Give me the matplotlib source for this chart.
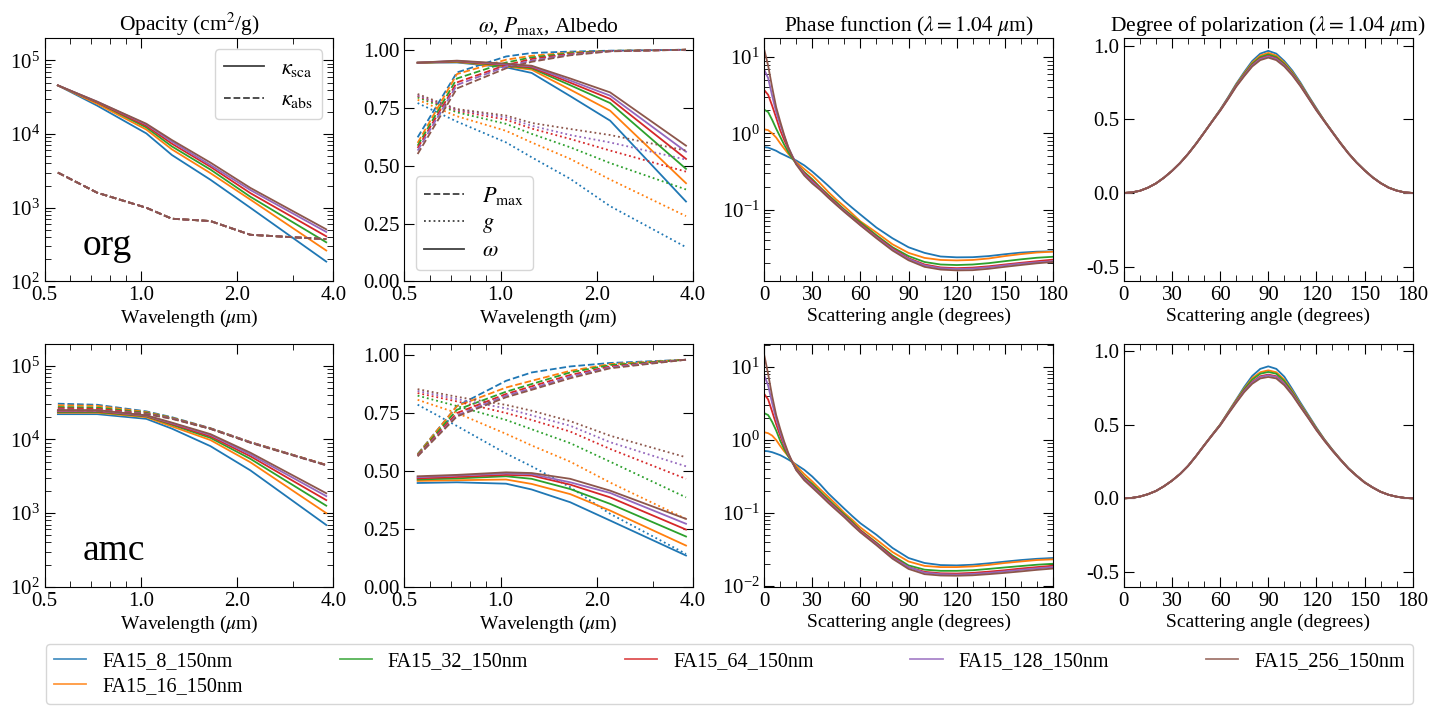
import matplotlib
matplotlib.use("Agg")
import matplotlib.pyplot as plt
from matplotlib.lines import Line2D
from matplotlib.ticker import FixedLocator, FormatStrFormatter, MultipleLocator, NullFormatter

plt.rcParams['font.family'] = 'serif'
plt.rcParams['font.serif'] = ['Liberation Serif', 'DejaVu Serif']
plt.rcParams['mathtext.fontset'] = 'stix'
plt.rcParams['font.size'] = 14

# ---- data ----
names = ['FA15_8_150nm', 'FA15_16_150nm', 'FA15_32_150nm',
         'FA15_64_150nm', 'FA15_128_150nm', 'FA15_256_150nm']
colors = ['tab:blue', 'tab:orange', 'tab:green', 'tab:red', 'tab:purple', 'tab:brown']

wavelengths = [0.55, 0.73, 1.04, 1.25, 1.65, 2.2, 3.8]

# opacities (cm^2/g)
ksca_org = [
    [4.57e4, 2.43e4, 1.02e4, 5.2e3, 2.4e3, 1.0e3, 1.86e2],
    [4.57e4, 2.57e4, 1.15e4, 6.2e3, 2.95e3, 1.29e3, 2.63e2],
    [4.57e4, 2.69e4, 1.23e4, 6.8e3, 3.3e3, 1.41e3, 3.4e2],
    [4.57e4, 2.70e4, 1.29e4, 7.4e3, 3.6e3, 1.58e3, 4.1e2],
    [4.57e4, 2.75e4, 1.35e4, 7.9e3, 3.8e3, 1.74e3, 4.7e2],
    [4.57e4, 2.75e4, 1.38e4, 8.3e3, 4.1e3, 1.86e3, 5.1e2],
]
kabs_org = [3.0e3, 1.6e3, 1.0e3, 7.1e2, 6.6e2, 4.3e2, 3.75e2]

ksca_amc = [
    [2.20e4, 2.20e4, 1.90e4, 1.40e4, 8.1e3, 3.8e3, 6.9e2],
    [2.30e4, 2.30e4, 2.00e4, 1.50e4, 9.8e3, 4.9e3, 1.0e3],
    [2.35e4, 2.35e4, 2.05e4, 1.58e4, 1.05e4, 5.45e3, 1.26e3],
    [2.40e4, 2.40e4, 2.08e4, 1.62e4, 1.10e4, 5.9e3, 1.5e3],
    [2.45e4, 2.45e4, 2.10e4, 1.66e4, 1.15e4, 6.25e3, 1.7e3],
    [2.50e4, 2.50e4, 2.12e4, 1.69e4, 1.18e4, 6.6e3, 1.86e3],
]
kabs_amc = [
    [3.05e4, 2.95e4, 2.40e4, 2.00e4, 1.42e4, 9.2e3, 4.5e3],
    [2.90e4, 2.85e4, 2.35e4, 1.97e4, 1.41e4, 9.2e3, 4.5e3],
    [2.75e4, 2.70e4, 2.30e4, 1.95e4, 1.40e4, 9.1e3, 4.5e3],
    [2.65e4, 2.60e4, 2.25e4, 1.93e4, 1.40e4, 9.1e3, 4.5e3],
    [2.55e4, 2.50e4, 2.22e4, 1.92e4, 1.39e4, 9.1e3, 4.45e3],
    [2.50e4, 2.45e4, 2.20e4, 1.90e4, 1.39e4, 9.0e3, 4.45e3],
]

# single scattering albedo, max polarization, asymmetry parameter
omega_org = [
    [0.944, 0.945, 0.924, 0.900, 0.800, 0.694, 0.345],
    [0.944, 0.947, 0.928, 0.914, 0.828, 0.737, 0.424],
    [0.944, 0.949, 0.931, 0.920, 0.847, 0.770, 0.486],
    [0.944, 0.950, 0.934, 0.924, 0.858, 0.788, 0.529],
    [0.944, 0.952, 0.937, 0.928, 0.867, 0.802, 0.560],
    [0.944, 0.953, 0.940, 0.931, 0.876, 0.816, 0.586],
]
pmax_org = [
    [0.622, 0.902, 0.971, 0.986, 0.992, 0.996, 1.0],
    [0.598, 0.895, 0.957, 0.974, 0.988, 0.995, 1.0],
    [0.586, 0.876, 0.945, 0.967, 0.985, 0.995, 1.0],
    [0.576, 0.859, 0.934, 0.960, 0.982, 0.994, 1.0],
    [0.565, 0.848, 0.928, 0.953, 0.979, 0.994, 1.0],
    [0.550, 0.833, 0.920, 0.948, 0.976, 0.993, 1.0],
]
g_org = [
    [0.770, 0.690, 0.600, 0.536, 0.443, 0.325, 0.148],
    [0.784, 0.713, 0.650, 0.600, 0.529, 0.440, 0.282],
    [0.794, 0.730, 0.680, 0.637, 0.579, 0.511, 0.397],
    [0.800, 0.737, 0.698, 0.660, 0.615, 0.565, 0.474],
    [0.803, 0.741, 0.708, 0.672, 0.632, 0.600, 0.526],
    [0.809, 0.744, 0.716, 0.684, 0.658, 0.632, 0.565],
]

omega_amc = [
    [0.448, 0.451, 0.445, 0.420, 0.365, 0.286, 0.135],
    [0.457, 0.460, 0.463, 0.444, 0.400, 0.329, 0.178],
    [0.463, 0.468, 0.477, 0.466, 0.422, 0.358, 0.217],
    [0.468, 0.474, 0.483, 0.480, 0.441, 0.386, 0.247],
    [0.473, 0.480, 0.489, 0.486, 0.451, 0.405, 0.272],
    [0.477, 0.483, 0.494, 0.491, 0.466, 0.415, 0.293],
]
pmax_amc = [
    [0.573, 0.780, 0.889, 0.925, 0.951, 0.966, 0.980],
    [0.571, 0.780, 0.860, 0.889, 0.932, 0.961, 0.980],
    [0.569, 0.764, 0.842, 0.875, 0.925, 0.957, 0.980],
    [0.567, 0.750, 0.832, 0.865, 0.914, 0.951, 0.980],
    [0.565, 0.740, 0.825, 0.856, 0.907, 0.947, 0.980],
    [0.563, 0.735, 0.818, 0.850, 0.900, 0.943, 0.980],
]
g_amc = [
    [0.786, 0.694, 0.575, 0.520, 0.430, 0.315, 0.142],
    [0.807, 0.750, 0.660, 0.610, 0.540, 0.450, 0.293],
    [0.825, 0.780, 0.720, 0.680, 0.620, 0.540, 0.386],
    [0.836, 0.800, 0.750, 0.720, 0.670, 0.595, 0.466],
    [0.845, 0.810, 0.770, 0.740, 0.695, 0.624, 0.520],
    [0.853, 0.820, 0.785, 0.760, 0.715, 0.652, 0.559],
]

# phase function at 1.04 um
phase_angles = [0, 2.5, 5, 7.5, 10, 12.5, 15, 17.5, 20, 25, 30, 35, 40, 45, 50, 55,
                60, 70, 80, 90, 100, 110, 120, 130, 140, 150, 160, 170, 180]
phase_org = [
    [0.66, 0.65, 0.62, 0.59, 0.55, 0.52, 0.49, 0.465, 0.44, 0.38, 0.315, 0.255, 0.205,
     0.163, 0.129, 0.105, 0.086, 0.058, 0.042, 0.032, 0.027, 0.0242, 0.0236, 0.0237,
     0.0245, 0.0259, 0.0272, 0.028, 0.0283],
    [1.13, 1.10, 1.0, 0.88, 0.74, 0.63, 0.54, 0.47, 0.42, 0.34, 0.28, 0.22, 0.17,
     0.135, 0.11, 0.088, 0.07, 0.05, 0.035, 0.027, 0.0232, 0.0218, 0.0215, 0.0218,
     0.0228, 0.0245, 0.026, 0.0273, 0.028],
    [2.05, 1.9, 1.5, 1.15, 0.9, 0.71, 0.57, 0.47, 0.40, 0.31, 0.25, 0.195, 0.155,
     0.125, 0.10, 0.082, 0.068, 0.046, 0.032, 0.0245, 0.0205, 0.019, 0.0187, 0.019,
     0.0198, 0.021, 0.0222, 0.0233, 0.024],
    [3.7, 3.2, 2.3, 1.6, 1.1, 0.82, 0.63, 0.50, 0.40, 0.30, 0.24, 0.19, 0.15,
     0.12, 0.097, 0.079, 0.065, 0.044, 0.031, 0.023, 0.019, 0.0174, 0.017, 0.0173,
     0.018, 0.019, 0.020, 0.021, 0.022],
    [6.85, 5.3, 3.1, 1.9, 1.3, 0.92, 0.66, 0.51, 0.40, 0.29, 0.23, 0.185, 0.145,
     0.117, 0.095, 0.077, 0.063, 0.043, 0.030, 0.0225, 0.0185, 0.017, 0.0166, 0.0168,
     0.0175, 0.0185, 0.0195, 0.0203, 0.021],
    [12.7, 7.7, 4.0, 2.2, 1.43, 0.95, 0.66, 0.50, 0.39, 0.28, 0.22, 0.18, 0.143,
     0.115, 0.093, 0.076, 0.062, 0.042, 0.029, 0.0216, 0.0177, 0.0163, 0.0159, 0.016,
     0.0167, 0.0177, 0.0187, 0.0197, 0.0205],
]
phase_amc = [
    [0.71, 0.70, 0.68, 0.65, 0.62, 0.58, 0.54, 0.50, 0.46, 0.39, 0.315, 0.245, 0.185,
     0.145, 0.114, 0.09, 0.072, 0.05, 0.033, 0.024, 0.0205, 0.0192, 0.019, 0.0194,
     0.0203, 0.0214, 0.0225, 0.0234, 0.024],
    [1.28, 1.24, 1.15, 1.0, 0.83, 0.70, 0.60, 0.51, 0.44, 0.34, 0.27, 0.21, 0.166,
     0.13, 0.10, 0.08, 0.063, 0.043, 0.029, 0.0215, 0.0187, 0.018, 0.018, 0.0184,
     0.0193, 0.0205, 0.0215, 0.0225, 0.023],
    [2.34, 2.2, 1.77, 1.35, 0.98, 0.75, 0.60, 0.49, 0.41, 0.31, 0.25, 0.195, 0.153,
     0.12, 0.095, 0.075, 0.058, 0.039, 0.026, 0.019, 0.0166, 0.016, 0.016, 0.0163,
     0.017, 0.0178, 0.0186, 0.0194, 0.020],
    [4.3, 3.6, 2.45, 1.65, 1.15, 0.83, 0.63, 0.50, 0.40, 0.30, 0.237, 0.185, 0.146,
     0.115, 0.091, 0.072, 0.057, 0.038, 0.025, 0.018, 0.0155, 0.0148, 0.0147, 0.015,
     0.0156, 0.0163, 0.0172, 0.018, 0.0188],
    [7.8, 5.6, 3.2, 1.95, 1.28, 0.88, 0.65, 0.50, 0.39, 0.29, 0.23, 0.18, 0.141,
     0.112, 0.089, 0.07, 0.055, 0.037, 0.024, 0.018, 0.0151, 0.0144, 0.0142, 0.0145,
     0.015, 0.0157, 0.0165, 0.0173, 0.018],
    [14.9, 8.0, 4.0, 2.2, 1.42, 0.95, 0.67, 0.50, 0.385, 0.28, 0.222, 0.175, 0.137,
     0.109, 0.087, 0.068, 0.054, 0.036, 0.0235, 0.017, 0.0144, 0.0138, 0.0137, 0.0139,
     0.0144, 0.015, 0.0157, 0.0165, 0.0172],
]

# degree of polarization at 1.04 um
pol_angles = [0, 5, 10, 15, 20, 25, 30, 35, 40, 45, 50, 55, 60, 65, 70, 75, 80, 85, 90,
              95, 100, 105, 110, 115, 120, 125, 130, 135, 140, 145, 150, 155, 160, 165,
              170, 175, 180]
pol_org = [
    [0, .004, .015, .036, .065, .104, .150, .203, .265, .335, .41, .487,
     .565, .65, .74, .82, .895, .945, .964, .945, .895, .83, .75, .66, .575,
     .49, .415, .34, .27, .208, .155, .107, .068, .037, .017, .004, 0],
    [0, .004, .015, .036, .065, .104, .150, .203, .265, .335, .41, .487,
     .563, .646, .735, .812, .884, .932, .95, .932, .884, .82, .742, .655, .57,
     .49, .414, .34, .27, .208, .155, .107, .068, .037, .017, .004, 0],
    [0, .004, .015, .036, .065, .104, .150, .203, .265, .335, .41, .486,
     .562, .644, .731, .806, .876, .922, .94, .922, .876, .813, .737, .652, .567,
     .489, .413, .339, .269, .208, .155, .107, .068, .037, .017, .004, 0],
    [0, .004, .015, .036, .065, .104, .150, .203, .265, .334, .409, .485,
     .56, .641, .727, .80, .868, .913, .93, .913, .868, .806, .732, .648, .564,
     .487, .412, .338, .268, .207, .154, .106, .067, .036, .016, .004, 0],
    [0, .004, .015, .036, .065, .104, .150, .203, .265, .334, .409, .485,
     .559, .64, .725, .797, .864, .908, .925, .908, .864, .803, .729, .646, .562,
     .486, .411, .337, .268, .207, .154, .106, .067, .036, .016, .004, 0],
    [0, .004, .015, .036, .065, .104, .150, .203, .264, .333, .408, .484,
     .557, .637, .721, .792, .858, .901, .918, .901, .858, .798, .725, .643, .56,
     .485, .41, .336, .267, .206, .153, .106, .067, .036, .016, .004, 0],
]
pol_amc = [
    [0, .003, .012, .028, .05, .082, .12, .165, .22, .287, .36, .43,
     .50, .585, .67, .755, .83, .878, .895, .878, .825, .74, .65, .565, .48,
     .40, .33, .265, .205, .155, .11, .075, .045, .024, .011, .003, 0],
    [0, .003, .012, .028, .05, .082, .12, .165, .22, .287, .36, .43,
     .50, .583, .665, .745, .815, .855, .868, .855, .805, .728, .64, .558, .475,
     .398, .328, .264, .204, .155, .11, .075, .045, .024, .011, .003, 0],
    [0, .003, .012, .028, .05, .082, .12, .165, .22, .287, .36, .43,
     .499, .58, .66, .739, .805, .845, .857, .845, .795, .72, .635, .553, .472,
     .396, .327, .263, .203, .154, .109, .074, .045, .024, .011, .003, 0],
    [0, .003, .012, .028, .05, .082, .12, .165, .22, .287, .359, .429,
     .497, .577, .655, .73, .79, .828, .839, .828, .78, .71, .627, .548, .467,
     .393, .325, .262, .202, .153, .108, .074, .044, .024, .011, .003, 0],
    [0, .003, .012, .028, .05, .082, .12, .165, .22, .287, .358, .428,
     .496, .575, .652, .726, .785, .823, .834, .823, .776, .707, .625, .546, .465,
     .392, .324, .261, .202, .153, .108, .074, .044, .024, .011, .003, 0],
    [0, .003, .012, .028, .05, .082, .12, .165, .219, .286, .357, .427,
     .494, .572, .648, .72, .777, .813, .823, .813, .767, .70, .62, .543, .462,
     .39, .322, .26, .201, .152, .107, .073, .044, .024, .011, .003, 0],
]

lw = 1.3

fig, axes = plt.subplots(2, 4, figsize=(14.4, 7.2), dpi=100)
fig.subplots_adjust(left=0.031, right=0.981, top=0.947, bottom=0.185,
                    wspace=0.246, hspace=0.255)


def style_ticks(ax):
    ax.tick_params(which='both', direction='in', top=True, right=True)
    ax.tick_params(which='major', length=7, labelsize=15)
    ax.tick_params(which='minor', length=4)


def wave_axis(ax):
    ax.set_xscale('log')
    ax.set_xlim(0.5, 4.0)
    ax.xaxis.set_major_locator(FixedLocator([0.5, 1.0, 2.0, 4.0]))
    ax.xaxis.set_major_formatter(FormatStrFormatter('%.1f'))
    ax.xaxis.set_minor_formatter(NullFormatter())
    ax.set_xlabel(r'Wavelength ($\mu$m)', fontsize=14, labelpad=2)


def angle_axis(ax):
    ax.set_xlim(0, 180)
    ax.xaxis.set_major_locator(MultipleLocator(30))
    ax.xaxis.set_minor_locator(MultipleLocator(10))
    ax.set_xlabel('Scattering angle (degrees)', fontsize=14, labelpad=2)


rows = [
    ('org', ksca_org, [kabs_org] * 6, omega_org, pmax_org, g_org, phase_org, pol_org),
    ('amc', ksca_amc, kabs_amc, omega_amc, pmax_amc, g_amc, phase_amc, pol_amc),
]

for r, (comp, ksca, kabs, omega, pmax, gg, phase, pol) in enumerate(rows):
    ax0, ax1, ax2, ax3 = axes[r]

    # opacity
    for i, c in enumerate(colors):
        ax0.plot(wavelengths, ksca[i], color=c, lw=lw)
        ax0.plot(wavelengths, kabs[i], color=c, lw=lw, ls='--')
    ax0.set_yscale('log')
    ax0.set_ylim(1e2, 2e5)
    wave_axis(ax0)
    ax0.text(0.13, 0.11, comp, transform=ax0.transAxes, fontsize=27)

    # albedo, Pmax, g
    for i, c in enumerate(colors):
        ax1.plot(wavelengths, pmax[i], color=c, lw=lw, ls='--')
        ax1.plot(wavelengths, gg[i], color=c, lw=lw, ls=':')
        ax1.plot(wavelengths, omega[i], color=c, lw=lw)
    ax1.set_ylim(0, 1.05)
    ax1.yaxis.set_major_locator(MultipleLocator(0.25))
    ax1.yaxis.set_major_formatter(FormatStrFormatter('%.2f'))
    wave_axis(ax1)

    # phase function
    for i, c in enumerate(colors):
        ax2.plot(phase_angles, phase[i], color=c, lw=lw)
    ax2.set_yscale('log')
    angle_axis(ax2)

    # polarization
    for i, c in enumerate(colors):
        ax3.plot(pol_angles, pol[i], color=c, lw=lw)
    ax3.set_ylim(-0.6, 1.05)
    ax3.yaxis.set_major_locator(MultipleLocator(0.5))
    ax3.yaxis.set_major_formatter(FormatStrFormatter('%.1f'))
    angle_axis(ax3)

    for ax in axes[r]:
        style_ticks(ax)

axes[0, 0].set_title(r'Opacity (cm$^2$/g)', fontsize=15.5, pad=5)
axes[0, 1].set_title(r'$\omega$, $P_{\rm max}$, Albedo', fontsize=15.5, pad=5)
axes[0, 2].set_title(r'Phase function ($\lambda = 1.04~\mu$m)', fontsize=15.5, pad=5)
axes[0, 3].set_title(r'Degree of polarization ($\lambda = 1.04~\mu$m)', fontsize=15.5, pad=5)

dark = '0.25'
axes[0, 0].legend([Line2D([], [], color=dark, lw=lw),
                   Line2D([], [], color=dark, lw=lw, ls='--')],
                  [r'$\kappa_{\rm sca}$', r'$\kappa_{\rm abs}$'],
                  loc='upper right', fontsize=16, handlelength=1.8)
axes[0, 1].legend([Line2D([], [], color=dark, lw=lw, ls='--'),
                   Line2D([], [], color=dark, lw=lw, ls=':'),
                   Line2D([], [], color=dark, lw=lw)],
                  [r'$P_{\rm max}$', r'$g$', r'$\omega$'],
                  loc='lower left', fontsize=16, handlelength=1.8,
                  labelspacing=0.25)

handles = [Line2D([], [], color=c, lw=lw, alpha=0.8) for c in colors]
fig.legend(handles, names, ncol=5, mode='expand', loc='lower left',
           bbox_to_anchor=(0.032, 0.022, 0.949, 0.078), fontsize=14.5,
           handlelength=1.6, labelspacing=0.3, borderaxespad=0.)

fig.savefig('out.png', dpi=100)
